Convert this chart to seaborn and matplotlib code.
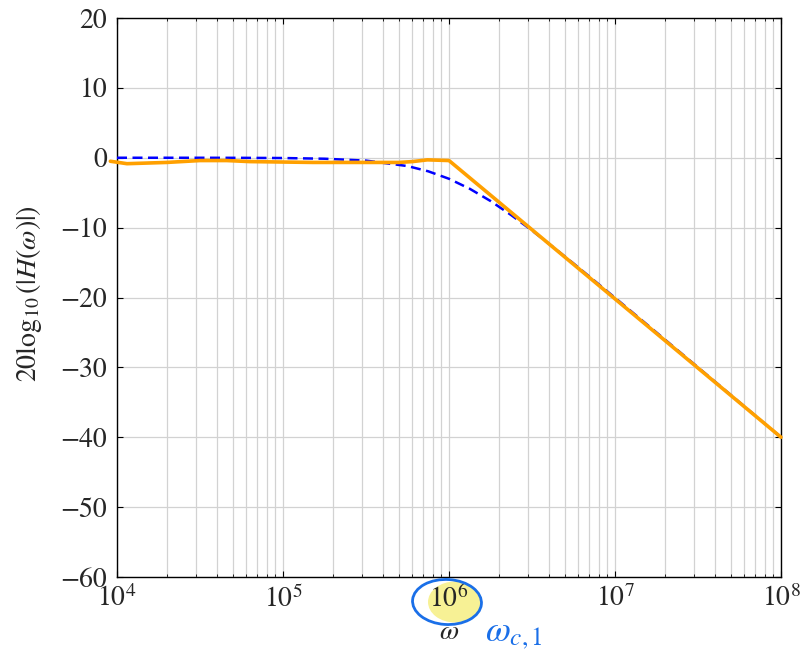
import numpy as np
import pandas as pd
import seaborn as sns
import matplotlib
matplotlib.use("Agg")
import matplotlib.pyplot as plt
from matplotlib.patches import Ellipse
from matplotlib.ticker import FixedLocator, NullFormatter, FuncFormatter

# ---- data ----
exact_log_omega = [4.0, 4.25, 4.5, 4.75, 5.0, 5.25, 5.5, 5.75, 5.875, 6.0, 6.125, 6.25,
                   6.375, 6.5, 6.625, 6.75, 6.875, 7.0, 7.25, 7.5, 7.75, 8.0]
exact_db = [0.0, -0.001, -0.004, -0.014, -0.04, -0.14, -0.41, -1.19, -1.94, -3.01, -4.44,
            -6.19, -8.21, -10.41, -12.74, -15.13, -17.58, -20.04, -25.01, -30.0, -35.0, -40.0]

asym_log_omega = [3.96, 4.06, 4.30, 4.50, 4.66, 4.80, 5.18, 5.70, 5.78, 5.87, 6.0, 8.0]
asym_db = [-0.5, -0.85, -0.67, -0.4, -0.4, -0.55, -0.67, -0.67, -0.55, -0.3, -0.4, -40.0]

x_ticks = [1e4, 1e5, 1e6, 1e7, 1e8]
y_ticks = [20, 10, 0, -10, -20, -30, -40, -50, -60]

exact = pd.DataFrame({"omega": np.power(10.0, exact_log_omega), "db": exact_db})
asym = pd.DataFrame({"omega": np.power(10.0, asym_log_omega), "db": asym_db})

sns.set_style("ticks")
plt.rcParams["font.family"] = ["STIXGeneral", "DejaVu Serif"]
plt.rcParams["mathtext.fontset"] = "stix"

W, H = 802, 649
fig = plt.figure(figsize=(W / 100, H / 100), dpi=100)
ax = fig.add_axes([117 / W, 1 - 577 / H, (781 - 117) / W, (577 - 18) / H])

sns.lineplot(data=exact, x="omega", y="db", ax=ax, color="#0000ff", linewidth=1.8,
             linestyle=(0, (4.0, 2.2)), zorder=3)
sns.lineplot(data=asym, x="omega", y="db", ax=ax, color="#ffa000", linewidth=2.6,
             zorder=4, clip_on=False)

ax.set_xscale("log")
ax.set_xlim(1e4, 1e8)
ax.set_ylim(-60, 20)

ax.xaxis.set_major_locator(FixedLocator(x_ticks))
minors = [m * 10.0 ** d for d in range(4, 8) for m in range(2, 10)]
ax.xaxis.set_minor_locator(FixedLocator(minors))
ax.xaxis.set_minor_formatter(NullFormatter())
ax.xaxis.set_major_formatter(FuncFormatter(lambda v, p: r"$10^{%d}$" % round(np.log10(v))))
ax.yaxis.set_major_locator(FixedLocator(y_ticks))
ax.yaxis.set_major_formatter(FuncFormatter(lambda v, p: ("\u2212%d" % abs(v)) if v < 0 else "%d" % v))

ax.grid(True, which="major", color="#d2d2d2", linewidth=0.9, zorder=0)
ax.grid(True, which="minor", axis="x", color="#d2d2d2", linewidth=0.9, zorder=0)
ax.set_axisbelow(True)

ax.tick_params(which="both", direction="in", top=True, right=True, labelsize=20, color="black")
ax.tick_params(which="major", length=4, width=0.8)
ax.tick_params(which="minor", length=2.5, width=0.6)
ax.tick_params(axis="y", pad=7)
ax.tick_params(axis="x", pad=6)
for s in ax.spines.values():
    s.set_linewidth(1.0)
    s.set_color("black")

ax.set_xlabel(r"$\omega$", fontsize=20)
ax.set_ylabel(r"$20\log_{10}(|H(\omega)|)$", fontsize=20)
ax.xaxis.set_label_coords(0.5, ((H - 632) - (H - 577)) / (577 - 18))
ax.xaxis.label.set_va("center")
ax.yaxis.set_label_coords((29 - 117) / (781 - 117), ((H - 293.5) - (H - 577)) / (577 - 18))
ax.yaxis.label.set_va("center")

# scale the y label to its length in the reference
fig.canvas.draw()
bb = ax.yaxis.label.get_window_extent(fig.canvas.get_renderer())
ax.yaxis.label.set_fontsize(20 * 177.0 / bb.height)

# hand-drawn annotation around 10^6
fig.patches.append(Ellipse((455 / W, 1 - 602 / H), 54 / W, 41 / H,
                           transform=fig.transFigure, facecolor="#f7f08a",
                           edgecolor="none", alpha=0.9, zorder=-1))
fig.patches.append(Ellipse((447 / W, 1 - 602 / H), 69 / W, 45 / H, angle=-5,
                           transform=fig.transFigure, facecolor="none",
                           edgecolor="#1a6fe8", linewidth=2.0, zorder=5))
fig.text(514 / W, 1 - 634 / H, r"$\omega_{c,1}$", color="#1a6fe8", fontsize=26,
         ha="center", va="center")

fig.savefig("out.png", dpi=100)
